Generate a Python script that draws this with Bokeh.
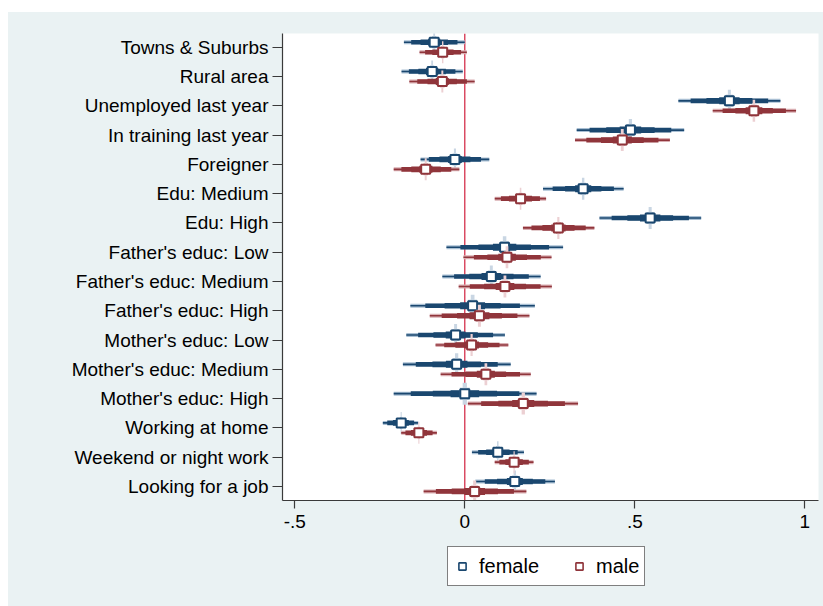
from bokeh.plotting import figure
from bokeh.models import Range1d, FixedTicker, Span, Legend, LegendItem
from bokeh.layouts import column
from bokeh.embed import file_html
from bokeh.resources import INLINE

# ---------------- data ----------------
labels = ["Towns & Suburbs", "Rural area", "Unemployed last year", "In training last year",
          "Foreigner", "Edu: Medium", "Edu: High", "Father's educ: Low",
          "Father's educ: Medium", "Father's educ: High", "Mother's educ: Low",
          "Mother's educ: Medium", "Mother's educ: High", "Working at home",
          "Weekend or night work", "Looking for a job"]
rows = list(range(1, 17))

female_b  = [-0.090, -0.096, 0.778, 0.487, -0.029, 0.348, 0.545, 0.117, 0.078, 0.023, -0.027, -0.024, 0.000, -0.187, 0.097, 0.147]
female_lo = [-0.179, -0.186, 0.628, 0.329, -0.130, 0.230, 0.396, -0.054, -0.066, -0.160, -0.172, -0.182, -0.209, -0.241, 0.021, 0.031]
female_hi = [0.000, -0.006, 0.928, 0.645, 0.072, 0.467, 0.695, 0.289, 0.223, 0.206, 0.118, 0.135, 0.211, -0.137, 0.174, 0.265]

male_b  = [-0.065, -0.066, 0.850, 0.463, -0.115, 0.164, 0.275, 0.124, 0.118, 0.043, 0.020, 0.062, 0.172, -0.135, 0.145, 0.029]
male_lo = [-0.133, -0.163, 0.729, 0.324, -0.209, 0.088, 0.171, -0.004, -0.018, -0.103, -0.086, -0.071, 0.009, -0.187, 0.088, -0.121]
male_hi = [0.006, 0.029, 0.974, 0.603, -0.016, 0.239, 0.381, 0.255, 0.256, 0.190, 0.128, 0.194, 0.333, -0.082, 0.202, 0.181]

x_ticks = [-0.5, 0, 0.5, 1]
x_tick_labels = ["-.5", "0", ".5", "1"]

# ---------------- styling ----------------
FONT = "Liberation Sans"
BG = "#EAF2F3"
series = [
    ("female", female_b, female_lo, female_hi, -0.17, "#1a476f", "#a9bfd3", "#c9d6e3"),
    ("male", male_b, male_lo, male_hi, 0.17, "#90353b", "#d9aeb2", "#ecd0d3"),
]
# (fraction of CI half-length, line width, which colour)
bands = [(1.0, 4.0, "light"), (1.0, 1.6, "dark"), (0.76, 4.6, "dark"),
         (0.45, 5.6, "dark"), (0.2, 7.0, "dark"), (0.07, 12, "spike"), (0.03, 22, "spike2")]

W = 815
p = figure(width=W, height=530, output_backend="svg", toolbar_location=None,
           x_range=Range1d(-0.536, 1.040), y_range=Range1d(16.48, 0.53),
           min_border_left=274, min_border_right=5, min_border_top=21, min_border_bottom=42,
           background_fill_color="white", border_fill_color=BG, outline_line_color=None)
p.grid.visible = False

p.add_layout(Span(location=0, dimension="height", line_color="#d11f3d", line_width=1.2,
                  level="underlay"))

for name, b, lo, hi, off, dark, light, spike in series:
    ys = [r + off for r in rows]
    cmap = {"dark": dark, "light": light, "spike": light, "spike2": spike}
    for frac, w, ck in bands:
        x0 = [bb - frac * (bb - l) for bb, l in zip(b, lo)]
        x1 = [bb + frac * (h - bb) for bb, h in zip(b, hi)]
        p.segment(x0=x0, y0=ys, x1=x1, y1=ys, line_color=cmap[ck], line_width=w,
                  line_cap="butt")
    p.scatter(x=b, y=ys, marker="square", size=9, fill_color="white",
              line_color=dark, line_width=2)

# axes
p.yaxis.ticker = FixedTicker(ticks=rows)
p.yaxis.major_label_overrides = {r: lab for r, lab in zip(rows, labels)}
p.yaxis.minor_tick_line_color = None
p.yaxis.major_tick_out = 10
p.yaxis.major_tick_in = 0
p.yaxis.major_label_standoff = 4
p.xaxis.ticker = FixedTicker(ticks=x_ticks)
p.xaxis.major_label_overrides = {t: l for t, l in zip(x_ticks, x_tick_labels)}
p.xaxis.minor_tick_line_color = None
p.xaxis.major_tick_out = 8
p.xaxis.major_tick_in = 0
p.xaxis.major_label_standoff = 6
for ax in (p.xaxis, p.yaxis):
    ax.axis_line_color = "#3a3a3a"
    ax.major_tick_line_color = "#3a3a3a"
    ax.axis_line_width = 1.2
    ax.major_tick_line_width = 1.2
    ax.major_label_text_font = FONT
    ax.major_label_text_font_size = "19px"
    ax.major_label_text_color = "black"

# ---------------- legend strip below the plot ----------------
leg = figure(width=W, height=64, output_backend="svg", toolbar_location=None,
             x_axis_type=None, y_axis_type=None, min_border=0,
             background_fill_color=BG, background_fill_alpha=0.0,
             border_fill_color=BG, border_fill_alpha=0.0, outline_line_color=None)
leg.grid.visible = False
items = []
for name, b, lo, hi, off, dark, light, spike in series:
    # hidden copy of the series, used only so the legend can draw its marker
    r = leg.scatter(x=b, y=[r + off for r in rows], marker="square", size=9,
                    fill_color="white", line_color=dark, line_width=1.6, visible=False)
    items.append(LegendItem(label=name, renderers=[r]))
legend = Legend(items=items, orientation="horizontal", location=(165, 20),
                label_text_font=FONT, label_text_font_size="20px", label_text_color="black",
                glyph_width=18, glyph_height=28, label_standoff=8, spacing=31,
                padding=5, margin=0, border_line_color="black", border_line_width=1,
                background_fill_color="white", background_fill_alpha=1.0,
                click_policy="none")
leg.add_layout(legend)

layout = column(p, leg, spacing=0, margin=(12, 0, 0, 8),
                styles={"background-color": BG})
open("out.html", "w").write(file_html(layout, INLINE))
